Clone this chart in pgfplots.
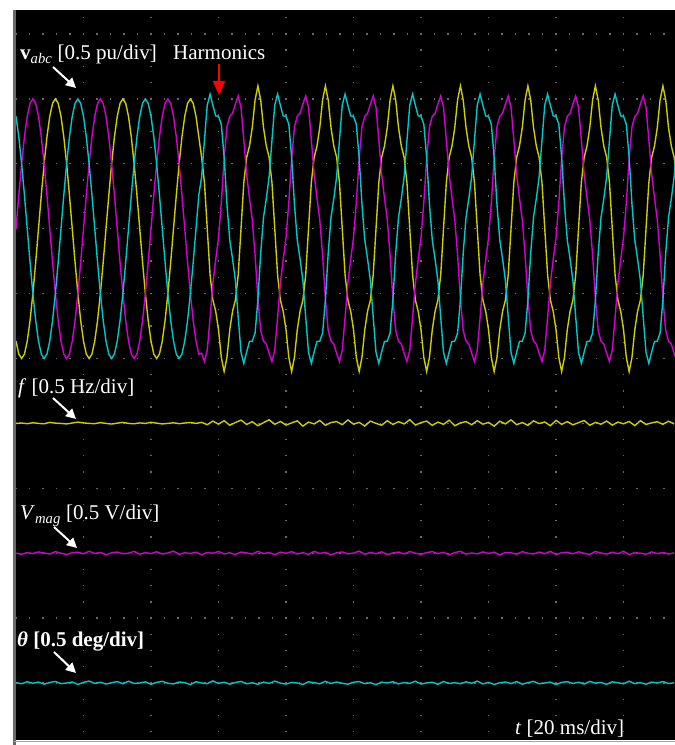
\documentclass[border=0pt]{standalone}
\usepackage{pgfplots}
\pgfplotsset{compat=1.18}
\usepackage{fontspec}
\setmainfont{Liberation Serif}
\usetikzlibrary{arrows.meta}
\definecolor{scyel}{RGB}{205,205,0}
\definecolor{sccya}{RGB}{0,200,200}
\definecolor{scmag}{RGB}{210,0,210}
\definecolor{gridc}{RGB}{105,105,105}
\pgfplotsset{scopeax/.style={at={(16pt,5pt)}, anchor=south west, scale only axis, width=659pt, height=730pt, xmin=0, xmax=234.3}}
\begin{document}
\begin{tikzpicture}
\useasboundingbox (0,0) rectangle (675pt,745pt);
\begin{axis}[scopeax, ymin=-3.939, ymax=1.685,
  axis background/.style={fill=black},
  axis line style={draw=none},
  xtick={24,48,...,216}, ytick={-3.5,-3,...,1.5},
  xticklabels={}, yticklabels={}, major tick length=0pt,
  grid=major,
  x grid style={gridc, line width=1.3pt, dash pattern=on 1.3pt off 14.93pt, dash phase=8.58pt},
  y grid style={gridc, line width=1.3pt, dash pattern=on 1.3pt off 12.2pt, dash phase=0.65pt}]
% phase b (yellow)
\addplot[scyel, line width=1.4pt] coordinates {
(0,-.866)(1,-.966)(2,-1)(3,-.966)(4,-.866)(5,-.707)(6,-.5)(7,-.259)(8,0)(9,.259)(10,.5)(11,.707)(12,.866)(13,.966)(14,1)(15,.966)(16,.866)(17,.707)(18,.5)(19,.259)(20,0)(21,-.259)(22,-.5)(23,-.707)
(24,-.866)(25,-.966)(26,-1)(27,-.966)(28,-.866)(29,-.707)(30,-.5)(31,-.259)(32,0)(33,.259)(34,.5)(35,.707)(36,.866)(37,.966)(38,1)(39,.966)(40,.866)(41,.707)(42,.5)(43,.259)(44,0)(45,-.259)(46,-.5)(47,-.707)
(48,-.866)(49,-.966)(50,-1)(51,-.966)(52,-.866)(53,-.707)(54,-.5)(55,-.259)(56,0)(57,.259)(58,.5)(59,.707)(60,.866)(61,.966)(62,1)(63,.966)(64,.866)(65,.707)(66,.55)(67,.356)(68,0)(69,-.356)(70,-.55)(71,-.636)
(72,-.779)(73,-.992)(74,-1.1)(75,-.992)(76,-.779)(77,-.636)(78,-.55)(79,-.356)(80,0)(81,.356)(82,.55)(83,.636)(84,.779)(85,.992)(86,1.1)(87,.992)(88,.779)(89,.636)(90,.55)(91,.356)(92,0)(93,-.356)(94,-.55)(95,-.636)
(96,-.779)(97,-.992)(98,-1.1)(99,-.992)(100,-.779)(101,-.636)(102,-.55)(103,-.356)(104,0)(105,.356)(106,.55)(107,.636)(108,.779)(109,.992)(110,1.1)(111,.992)(112,.779)(113,.636)(114,.55)(115,.356)(116,0)(117,-.356)(118,-.55)(119,-.636)
(120,-.779)(121,-.992)(122,-1.1)(123,-.992)(124,-.779)(125,-.636)(126,-.55)(127,-.356)(128,0)(129,.356)(130,.55)(131,.636)(132,.779)(133,.992)(134,1.1)(135,.992)(136,.779)(137,.636)(138,.55)(139,.356)(140,0)(141,-.356)(142,-.55)(143,-.636)
(144,-.779)(145,-.992)(146,-1.1)(147,-.992)(148,-.779)(149,-.636)(150,-.55)(151,-.356)(152,0)(153,.356)(154,.55)(155,.636)(156,.779)(157,.992)(158,1.1)(159,.992)(160,.779)(161,.636)(162,.55)(163,.356)(164,0)(165,-.356)(166,-.55)(167,-.636)
(168,-.779)(169,-.992)(170,-1.1)(171,-.992)(172,-.779)(173,-.636)(174,-.55)(175,-.356)(176,0)(177,.356)(178,.55)(179,.636)(180,.779)(181,.992)(182,1.1)(183,.992)(184,.779)(185,.636)(186,.55)(187,.356)(188,0)(189,-.356)(190,-.55)(191,-.636)
(192,-.779)(193,-.992)(194,-1.1)(195,-.992)(196,-.779)(197,-.636)(198,-.55)(199,-.356)(200,0)(201,.356)(202,.55)(203,.636)(204,.779)(205,.992)(206,1.1)(207,.992)(208,.779)(209,.636)(210,.55)(211,.356)(212,0)(213,-.356)(214,-.55)(215,-.636)
(216,-.779)(217,-.992)(218,-1.1)(219,-.992)(220,-.779)(221,-.636)(222,-.55)(223,-.356)(224,0)(225,.356)(226,.55)(227,.636)(228,.779)(229,.992)(230,1.1)(231,.992)(232,.779)(233,.636)(234,.55)(235,.356)
};
% phase a (magenta)
\addplot[scmag, line width=1.4pt] coordinates {
(0,0)(1,.259)(2,.5)(3,.707)(4,.866)(5,.966)(6,1)(7,.966)(8,.866)(9,.707)(10,.5)(11,.259)(12,0)(13,-.259)(14,-.5)(15,-.707)(16,-.866)(17,-.966)(18,-1)(19,-.966)(20,-.866)(21,-.707)(22,-.5)(23,-.259)
(24,0)(25,.259)(26,.5)(27,.707)(28,.866)(29,.966)(30,1)(31,.966)(32,.866)(33,.707)(34,.5)(35,.259)(36,0)(37,-.259)(38,-.5)(39,-.707)(40,-.866)(41,-.966)(42,-1)(43,-.966)(44,-.866)(45,-.707)(46,-.5)(47,-.259)
(48,0)(49,.259)(50,.5)(51,.707)(52,.866)(53,.966)(54,1)(55,.966)(56,.866)(57,.707)(58,.5)(59,.259)(60,0)(61,-.259)(62,-.5)(63,-.707)(64,-.866)(65,-.966)(66,-.96)(67,-1.023)(68,-.935)(69,-.686)(70,-.42)(71,-.238)
(72,-.069)(73,.202)(74,.54)(75,.784)(76,.866)(77,.889)(78,.96)(79,1.023)(80,.935)(81,.686)(82,.42)(83,.238)(84,.069)(85,-.202)(86,-.54)(87,-.784)(88,-.866)(89,-.889)(90,-.96)(91,-1.023)(92,-.935)(93,-.686)(94,-.42)(95,-.238)
(96,-.069)(97,.202)(98,.54)(99,.784)(100,.866)(101,.889)(102,.96)(103,1.023)(104,.935)(105,.686)(106,.42)(107,.238)(108,.069)(109,-.202)(110,-.54)(111,-.784)(112,-.866)(113,-.889)(114,-.96)(115,-1.023)(116,-.935)(117,-.686)(118,-.42)(119,-.238)
(120,-.069)(121,.202)(122,.54)(123,.784)(124,.866)(125,.889)(126,.96)(127,1.023)(128,.935)(129,.686)(130,.42)(131,.238)(132,.069)(133,-.202)(134,-.54)(135,-.784)(136,-.866)(137,-.889)(138,-.96)(139,-1.023)(140,-.935)(141,-.686)(142,-.42)(143,-.238)
(144,-.069)(145,.202)(146,.54)(147,.784)(148,.866)(149,.889)(150,.96)(151,1.023)(152,.935)(153,.686)(154,.42)(155,.238)(156,.069)(157,-.202)(158,-.54)(159,-.784)(160,-.866)(161,-.889)(162,-.96)(163,-1.023)(164,-.935)(165,-.686)(166,-.42)(167,-.238)
(168,-.069)(169,.202)(170,.54)(171,.784)(172,.866)(173,.889)(174,.96)(175,1.023)(176,.935)(177,.686)(178,.42)(179,.238)(180,.069)(181,-.202)(182,-.54)(183,-.784)(184,-.866)(185,-.889)(186,-.96)(187,-1.023)(188,-.935)(189,-.686)(190,-.42)(191,-.238)
(192,-.069)(193,.202)(194,.54)(195,.784)(196,.866)(197,.889)(198,.96)(199,1.023)(200,.935)(201,.686)(202,.42)(203,.238)(204,.069)(205,-.202)(206,-.54)(207,-.784)(208,-.866)(209,-.889)(210,-.96)(211,-1.023)(212,-.935)(213,-.686)(214,-.42)(215,-.238)
(216,-.069)(217,.202)(218,.54)(219,.784)(220,.866)(221,.889)(222,.96)(223,1.023)(224,.935)(225,.686)(226,.42)(227,.238)(228,.069)(229,-.202)(230,-.54)(231,-.784)(232,-.866)(233,-.889)(234,-.96)(235,-1.023)
};
% phase c (cyan)
\addplot[sccya, line width=1.4pt] coordinates {
(0,.866)(1,.707)(2,.5)(3,.259)(4,0)(5,-.259)(6,-.5)(7,-.707)(8,-.866)(9,-.966)(10,-1)(11,-.966)(12,-.866)(13,-.707)(14,-.5)(15,-.259)(16,0)(17,.259)(18,.5)(19,.707)(20,.866)(21,.966)(22,1)(23,.966)
(24,.866)(25,.707)(26,.5)(27,.259)(28,0)(29,-.259)(30,-.5)(31,-.707)(32,-.866)(33,-.966)(34,-1)(35,-.966)(36,-.866)(37,-.707)(38,-.5)(39,-.259)(40,0)(41,.259)(42,.5)(43,.707)(44,.866)(45,.966)(46,1)(47,.966)
(48,.866)(49,.707)(50,.5)(51,.259)(52,0)(53,-.259)(54,-.5)(55,-.707)(56,-.866)(57,-.966)(58,-1)(59,-.966)(60,-.866)(61,-.707)(62,-.5)(63,-.259)(64,0)(65,.259)(66,.4)(67,.681)(68,.953)(69,1.037)(70,.95)(71,.869)
(72,.866)(73,.804)(74,.55)(75,.188)(76,-.087)(77,-.233)(78,-.4)(79,-.681)(80,-.953)(81,-1.037)(82,-.95)(83,-.869)(84,-.866)(85,-.804)(86,-.55)(87,-.188)(88,.087)(89,.233)(90,.4)(91,.681)(92,.953)(93,1.037)(94,.95)(95,.869)
(96,.866)(97,.804)(98,.55)(99,.188)(100,-.087)(101,-.233)(102,-.4)(103,-.681)(104,-.953)(105,-1.037)(106,-.95)(107,-.869)(108,-.866)(109,-.804)(110,-.55)(111,-.188)(112,.087)(113,.233)(114,.4)(115,.681)(116,.953)(117,1.037)(118,.95)(119,.869)
(120,.866)(121,.804)(122,.55)(123,.188)(124,-.087)(125,-.233)(126,-.4)(127,-.681)(128,-.953)(129,-1.037)(130,-.95)(131,-.869)(132,-.866)(133,-.804)(134,-.55)(135,-.188)(136,.087)(137,.233)(138,.4)(139,.681)(140,.953)(141,1.037)(142,.95)(143,.869)
(144,.866)(145,.804)(146,.55)(147,.188)(148,-.087)(149,-.233)(150,-.4)(151,-.681)(152,-.953)(153,-1.037)(154,-.95)(155,-.869)(156,-.866)(157,-.804)(158,-.55)(159,-.188)(160,.087)(161,.233)(162,.4)(163,.681)(164,.953)(165,1.037)(166,.95)(167,.869)
(168,.866)(169,.804)(170,.55)(171,.188)(172,-.087)(173,-.233)(174,-.4)(175,-.681)(176,-.953)(177,-1.037)(178,-.95)(179,-.869)(180,-.866)(181,-.804)(182,-.55)(183,-.188)(184,.087)(185,.233)(186,.4)(187,.681)(188,.953)(189,1.037)(190,.95)(191,.869)
(192,.866)(193,.804)(194,.55)(195,.188)(196,-.087)(197,-.233)(198,-.4)(199,-.681)(200,-.953)(201,-1.037)(202,-.95)(203,-.869)(204,-.866)(205,-.804)(206,-.55)(207,-.188)(208,.087)(209,.233)(210,.4)(211,.681)(212,.953)(213,1.037)(214,.95)(215,.869)
(216,.866)(217,.804)(218,.55)(219,.188)(220,-.087)(221,-.233)(222,-.4)(223,-.681)(224,-.953)(225,-1.037)(226,-.95)(227,-.869)(228,-.866)(229,-.804)(230,-.55)(231,-.188)(232,.087)(233,.233)(234,.4)(235,.681)
};
\end{axis}
% frequency trace
\begin{axis}[scopeax, hide axis, ymin=47.561, ymax=53.185]
\addplot[scyel, line width=1.4pt] coordinates {
(0,50)(2,50.003)(4,49.998)(6,50.005)(8,50)(10,49.997)(12,50.008)(14,50.002)(16,50)(18,49.996)(20,50.003)(22,50.01)(24,50.004)(26,50)(28,49.998)(30,50.006)(32,50)(34,49.995)(36,50.002)(38,50.008)(40,50)(42,49.997)(44,50.004)(46,50)(48,50.009)(50,50.002)(52,49.996)(54,50)(56,50.005)(58,49.998)(60,50.003)(62,50.007)(64,50)
(66,50.008)(68,49.99)(70,50.018)(72,49.994)(74,50.021)(76,49.986)(78,50.007)(80,50.025)(82,49.992)(84,50.013)(86,49.982)(88,50.006)(90,50.028)(92,49.993)(94,50.015)(96,49.987)(98,50.004)(100,50.02)(102,49.979)(104,50.01)
(106,49.996)(108,50.023)(110,49.985)(112,50.007)(114,50.014)(116,49.99)(118,50.027)(120,49.994)(122,50.008)(124,49.98)(126,50.018)(128,50)(130,49.986)(132,50.021)(134,49.992)(136,50.013)(138,49.996)(140,50.029)(142,49.987)(144,50.006)
(146,50.018)(148,49.985)(150,50.01)(152,49.993)(154,50.025)(156,49.982)(158,50.004)(160,50.014)(162,49.99)(164,50.021)(166,49.994)(168,50.008)(170,49.979)(172,50.017)(174,49.996)(176,50.027)(178,49.99)(180,50.007)(182,49.985)(184,50.02)
(186,49.999)(188,50.011)(190,49.982)(192,50.024)(194,49.993)(196,50.014)(198,49.989)(200,50.006)(202,50.022)(204,49.986)(206,50.008)(208,49.994)(210,50.018)(212,49.987)(214,50.01)(216,49.997)(218,50.015)(220,49.983)(222,50.021)(224,49.992)
(226,50.004)(228,50.013)(230,49.993)(232,50.017)(234,49.996)
};
\end{axis}
% magnitude and phase traces
\begin{axis}[scopeax, hide axis, ymin=-0.439, ymax=5.185]
\addplot[scmag, line width=1.4pt] coordinates {
(0,1)(2,.992)(4,1.005)(6,.997)(8,1.01)(10,1.002)(12,.994)(14,1.012)(16,1)(18,.99)(20,1.004)(22,1.008)(24,.995)(26,1.015)(28,.998)(30,1.006)(32,.988)(34,1.003)(36,1.009)(38,.996)
(40,1)(42,1.014)(44,.992)(46,1.005)(48,.997)(50,1.011)(52,.994)(54,1.002)(56,1.016)(58,.991)(60,1.004)(62,.998)(64,1.008)(66,.988)(68,1.006)(70,1)(72,1.013)(74,.995)(76,1.003)(78,.99)
(80,1.009)(82,1.002)(84,.993)(86,1.015)(88,.997)(90,1.005)(92,.989)(94,1.008)(96,1)(98,1.012)(100,.994)(102,1.004)(104,.991)(106,1.014)(108,.998)(110,1.007)(112,.987)(114,1.003)(116,1.01)(118,.995)
(120,1.001)(122,1.016)(124,.992)(126,1.006)(128,.996)(130,1.011)(132,.99)(134,1.002)(136,1.009)(138,.994)(140,1.013)(142,1)(144,.991)(146,1.005)(148,1.012)(150,.997)(152,1.007)(154,.988)(156,1.004)(158,1.015)
(160,.993)(162,1.002)(164,.995)(166,1.01)(168,.998)(170,1.008)(172,.986)(174,1.006)(176,1.003)(178,.992)(180,1.012)(182,1)(184,.994)(186,1.009)(188,.997)(190,1.014)(192,.99)(194,1.004)(196,1.007)(198,.995)
(200,1.011)(202,.999)(204,.991)(206,1.013)(208,1.002)(210,.993)(212,1.008)(214,.996)(216,1.015)(218,.989)(220,1.005)(222,1)(224,.992)(226,1.01)(228,.997)(230,1.006)(232,.994)(234,1.003)
};
\addplot[sccya, line width=1.4pt] coordinates {
(0,.003)(2,-.006)(4,.01)(6,-.002)(8,.007)(10,-.009)(12,.004)(14,.012)(16,-.005)(18,0)
(20,.008)(22,-.011)(24,.005)(26,.015)(28,-.003)(30,.006)(32,-.008)(34,.002)(36,.011)(38,-.006)
(40,.014)(42,-.004)(44,0)(46,.009)(48,-.01)(50,.005)(52,.013)(54,-.002)(56,-.007)(58,.008)
(60,.003)(62,-.012)(64,.01)(66,0)(68,-.005)(70,.016)(72,-.003)(74,.006)(76,-.009)(78,.004)
(80,.012)(82,-.006)(84,.002)(86,-.01)(88,.007)(90,-.003)(92,.015)(94,-.001)(96,-.008)(98,.005)
(100,0)(102,-.011)(104,.009)(106,.003)(108,-.006)(110,.013)(112,-.004)(114,.008)(116,-.002)(118,-.009)
(120,.006)(122,.011)(124,-.005)(126,.002)(128,-.012)(130,.007)(132,0)(134,.01)(136,-.007)(138,.004)
(140,-.003)(142,.014)(144,-.008)(146,.001)(148,.006)(150,-.01)(152,.012)(154,-.004)(156,.003)(158,-.006)
(160,.009)(162,-.002)(164,.015)(166,-.007)(168,.005)(170,-.011)(172,.002)(174,.008)(176,-.004)(178,.011)
(180,-.009)(182,.003)(184,.013)(186,-.006)(188,0)(190,.007)(192,-.012)(194,.005)(196,.01)(198,-.003)
(200,.006)(202,-.008)(204,.012)(206,-.001)(208,.004)(210,-.01)(212,.009)(214,.002)(216,-.006)(218,.014)
(220,-.005)(222,.003)(224,-.009)(226,.007)(228,0)(230,.011)(232,-.004)(234,.002)
};
\end{axis}
% frame lines
\draw[gridc, line width=2.5pt] (14.5pt,0pt) -- (14.5pt,735pt);
\draw[gray!70, line width=1.2pt] (14pt,3.5pt) -- (675pt,3.5pt);
% labels
\tikzset{lab/.style={text=white, anchor=base west, inner sep=0pt, font=\fontsize{21}{25}\selectfont}}
\node[lab] at (20pt,685pt) {\textbf{v}\textsubscript{\textit{abc}} [0.5 pu/div]};
\node[lab] at (173pt,685pt) {Harmonics};
\node[lab] at (18pt,351pt) {\textit{f} [0.5 Hz/div]};
\node[lab] at (20pt,225pt) {\textit{V}\textsubscript{\textit{mag}} [0.5 V/div]};
\node[lab] at (17pt,98pt) {\textbf{\textit{θ} [0.5 deg/div]}};
\node[lab] at (515pt,10pt) {\textit{t} [20 ms/div]};
% arrows
\draw[white, line width=2pt, -{Triangle[length=10pt,width=10pt]}] (53pt,678pt) -- (76pt,657pt);
\draw[white, line width=2pt, -{Triangle[length=10pt,width=10pt]}] (53pt,347pt) -- (76pt,326pt);
\draw[white, line width=2pt, -{Triangle[length=10pt,width=10pt]}] (54pt,218pt) -- (77pt,197pt);
\draw[white, line width=2pt, -{Triangle[length=10pt,width=10pt]}] (54pt,93pt) -- (76pt,72pt);
\draw[red, line width=2pt, -{Triangle[length=14pt,width=12pt]}] (219pt,681pt) -- (219pt,650pt);
\end{tikzpicture}
\end{document}
